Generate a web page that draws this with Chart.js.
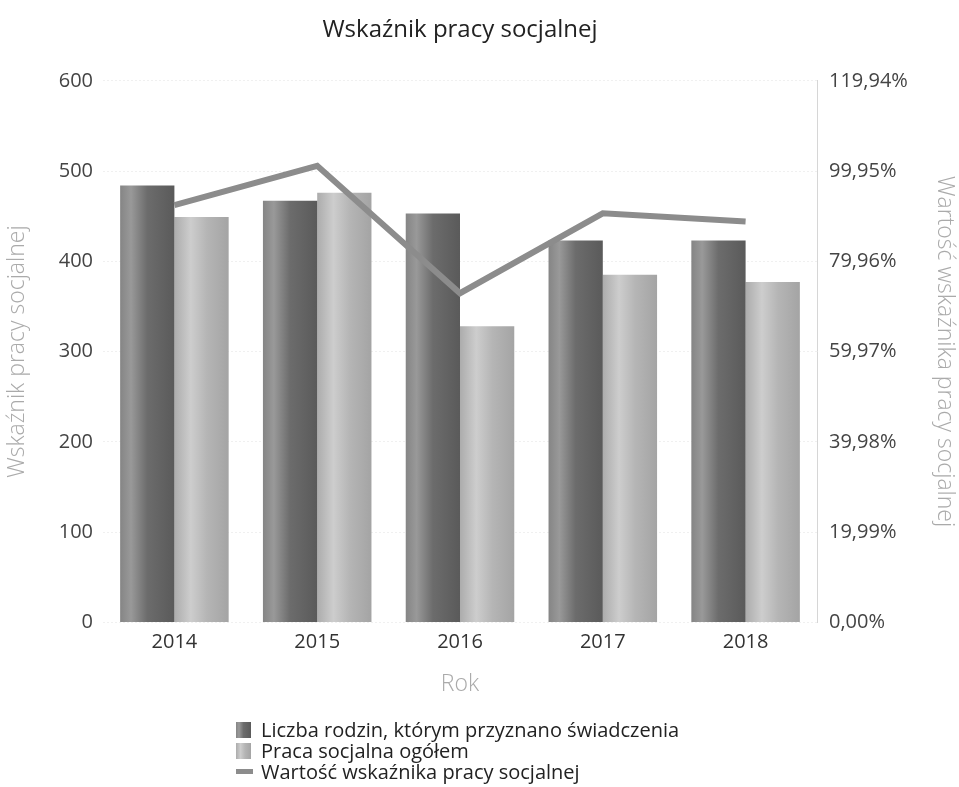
<!DOCTYPE html>
<html lang="pl">
<head>
<meta charset="utf-8">
<script src="https://cdn.jsdelivr.net/npm/chart.js@4/dist/chart.umd.min.js"></script>
<style>
  body { margin: 0; background: #fff; font-family: "Open Sans", sans-serif; }
  #wrap { position: relative; width: 959px; height: 787px; }
  #legend { position: absolute; left: 236px; top: 719px; font-size: 20px; color: #222; line-height: 21px; }
  #legend div { display: flex; align-items: center; white-space: nowrap; }
  #legend span.box { display: inline-block; width: 15px; height: 16px; margin-right: 10px; }
  #legend span.line { display: inline-block; width: 17px; height: 5px; margin-right: 8px; }
</style>
</head>
<body>
<div id="wrap">
  <canvas id="chart" width="959" height="787"></canvas>
  <div id="legend"></div>
</div>
<script>
const years = ['2014', '2015', '2016', '2017', '2018'];
const rodziny = [484, 467, 453, 423, 423];   // Liczba rodzin, którym przyznano świadczenia
const praca = [449, 476, 328, 385, 377];     // Praca socjalna ogółem
const wskaznik = [92.4, 101.1, 72.9, 90.6, 88.8]; // Wartość wskaźnika (%)
const leftTicks = [0, 100, 200, 300, 400, 500, 600];
const rightTicks = [0, 19.99, 39.98, 59.97, 79.96, 99.95, 119.94];

const labelRodziny = 'Liczba rodzin, którym przyznano świadczenia';
const labelPraca = 'Praca socjalna ogółem';
const labelWskaznik = 'Wartość wskaźnika pracy socjalnej';

// cylinder-like shading for the bars
const darkShade = [[0, '#858585'], [0.2, '#999999'], [0.5, '#6c6c6c'], [1, '#5a5a5a']];
const lightShade = [[0, '#acacac'], [0.3, '#cdcdcd'], [0.6, '#b5b5b5'], [1, '#a4a4a4']];

const fmtPct = v => v.toFixed(2).replace('.', ',') + '%';

// paint each bar with a horizontal gradient once positions are known
const cylinderPlugin = {
  id: 'cylinder',
  beforeDatasetsDraw(chart) {
    const c = chart.ctx;
    chart.data.datasets.forEach((ds, i) => {
      if (!ds.shade) return;
      chart.getDatasetMeta(i).data.forEach(bar => {
        const x0 = bar.x - bar.width / 2;
        const g = c.createLinearGradient(x0, 0, x0 + bar.width, 0);
        ds.shade.forEach(([stop, col]) => g.addColorStop(stop, col));
        bar.options.backgroundColor = g;
      });
    });
  }
};

const tickFont = { family: 'Open Sans', size: 20 };
const axisTitleFont = { family: 'Open Sans', size: 23, weight: '300' };

const ctx = document.getElementById('chart').getContext('2d');
new Chart(ctx, {
  type: 'bar',
  data: {
    labels: years,
    datasets: [
      {
        type: 'line',
        label: labelWskaznik,
        data: wskaznik,
        yAxisID: 'y1',
        borderColor: '#8c8c8c',
        borderWidth: 6,
        pointRadius: 0,
        tension: 0,
        order: 0
      },
      {
        label: labelRodziny,
        data: rodziny,
        yAxisID: 'y',
        shade: darkShade,
        backgroundColor: () => '#777777',
        categoryPercentage: 0.76,
        barPercentage: 1.0,
        order: 1
      },
      {
        label: labelPraca,
        data: praca,
        yAxisID: 'y',
        shade: lightShade,
        backgroundColor: () => '#bbbbbb',
        categoryPercentage: 0.76,
        barPercentage: 1.0,
        order: 2
      }
    ]
  },
  options: {
    responsive: false,
    animation: false,
    layout: { padding: { left: 2, right: 0, top: 0, bottom: 85 } },
    plugins: {
      legend: { display: false },
      tooltip: { enabled: false },
      title: {
        display: true,
        fullSize: false,
        text: 'Wskaźnik pracy socjalnej',
        color: '#222',
        font: { family: 'Open Sans', size: 24, weight: 'normal' },
        padding: { top: 16, bottom: 36 }
      }
    },
    scales: {
      x: {
        grid: { display: false, drawTicks: false },
        border: { display: false },
        ticks: { color: '#333', font: tickFont, padding: 8 },
        title: {
          display: true,
          text: 'Rok',
          color: '#aaa',
          font: axisTitleFont,
          padding: { top: 8, bottom: 4 }
        }
      },
      y: {
        position: 'left',
        min: 0,
        max: 600,
        afterBuildTicks: scale => { scale.ticks = leftTicks.map(v => ({ value: v })); },
        afterFit: scale => { scale.width = 101; },
        grid: { color: '#f0f0f0', drawTicks: false },
        border: { display: false, dash: [2, 2] },
        ticks: { color: '#444', font: tickFont, padding: 10 },
        title: {
          display: true,
          text: 'Wskaźnik pracy socjalnej',
          color: '#aaa',
          font: axisTitleFont,
          padding: { top: 2, bottom: 2 }
        }
      },
      y1: {
        position: 'right',
        min: 0,
        max: 119.94,
        afterBuildTicks: scale => { scale.ticks = rightTicks.map(v => ({ value: v })); },
        afterFit: scale => { scale.width = 142; },
        grid: { display: false, drawTicks: false },
        border: { display: true, color: '#d6d6d6', dash: [2, 2] },
        ticks: { color: '#444', font: tickFont, padding: 12, callback: v => fmtPct(v) },
        title: {
          display: true,
          text: 'Wartość wskaźnika pracy socjalnej',
          color: '#aaa',
          font: axisTitleFont,
          padding: { top: 1, bottom: 1 }
        }
      }
    }
  },
  plugins: [cylinderPlugin]
});

// HTML legend, one entry per row like the reference
function gradientCss(shade) {
  return 'linear-gradient(to right, ' + shade.map(([s, c]) => c + ' ' + (s * 100) + '%').join(', ') + ')';
}
const legendItems = [
  { text: labelRodziny, kind: 'box', bg: gradientCss(darkShade) },
  { text: labelPraca, kind: 'box', bg: gradientCss(lightShade) },
  { text: labelWskaznik, kind: 'line', bg: '#8c8c8c' }
];
const legend = document.getElementById('legend');
legendItems.forEach(item => {
  const row = document.createElement('div');
  const mark = document.createElement('span');
  mark.className = item.kind;
  mark.style.background = item.bg;
  row.appendChild(mark);
  row.appendChild(document.createTextNode(item.text));
  legend.appendChild(row);
});
</script>
</body>
</html>
